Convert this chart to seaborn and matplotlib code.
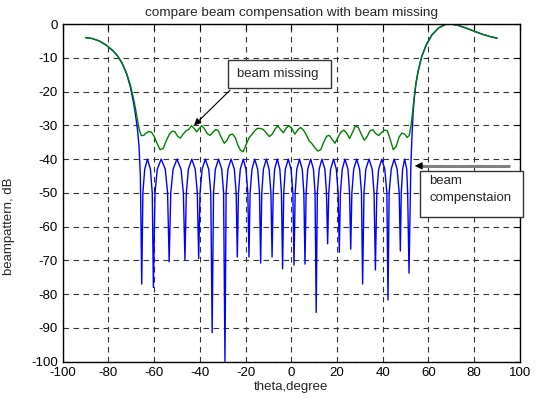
import numpy as np
import pandas as pd
import matplotlib
matplotlib.use("Agg")
import matplotlib.pyplot as plt
import seaborn as sns
from matplotlib.patches import Rectangle

# beam compensation (blue) - theta, dB
blue_theta = [-90, -87, -84, -81, -78, -76, -74, -72, -70.5, -69.2, -68.2, -67.3, -66.6, -66.0,
              -65.4, -64.9, -64.1, -62.9, -61.6, -60.8,
              -60.3, -59.6, -58.6, -56.9, -55.1, -54.1,
              -53.4, -52.7, -51.7, -50.0, -48.2, -47.2,
              -46.5, -45.9, -45.0, -43.5, -42.0, -41.1,
              -40.5, -39.9, -39.0, -37.6, -36.1, -35.2,
              -34.6, -34.0, -33.2, -31.8, -30.4, -29.6,
              -29.0, -28.5, -27.7, -26.3, -24.9, -24.1,
              -23.6, -23.1, -22.3, -21.0, -19.8, -19.0,
              -18.5, -18.0, -17.2, -16.0, -14.7, -13.9,
              -13.4, -12.9, -12.2, -10.9, -9.7, -8.9,
              -8.4, -7.9, -7.3, -6.1, -5.0, -4.3,
              -3.8, -3.3, -2.6, -1.3, -0.1, 0.7,
              1.2, 1.7, 2.4, 3.6, 4.8, 5.5,
              6.0, 6.5, 7.2, 8.5, 9.7, 10.4,
              10.9, 11.4, 12.2, 13.4, 14.7, 15.4,
              15.9, 16.4, 17.2, 18.5, 19.7, 20.5,
              21.0, 21.5, 22.3, 23.5, 24.8, 25.5,
              26.0, 26.5, 27.3, 28.6, 29.9, 30.7,
              31.2, 31.8, 32.6, 34.0, 35.4, 36.2,
              36.8, 37.4, 38.2, 39.6, 40.9, 41.8,
              42.3, 42.8, 43.7, 45.0, 46.3, 47.2,
              47.7, 48.1, 48.7, 49.6, 50.5, 50.9,
              51.5, 52.3, 52.8, 53.3, 53.8, 54.5, 55.5, 57.0, 59.0, 61.5, 64.5, 67.5,
              70.0, 73.0, 76.5, 80.0, 83.5, 87.0, 90.0]
blue_db = [-4.0, -4.3, -5.0, -6.2, -7.9, -9.4, -11.6, -14.8, -18.3, -22.5, -26.5, -31.0, -36.0, -45,
           -77.0, -50, -43, -40, -43, -50,
           -78.0, -50, -43, -40, -43, -50,
           -70.4, -50, -43, -40, -43, -50,
           -69.9, -50, -43, -40, -43, -50,
           -69.4, -50, -43, -40, -43, -50,
           -91.4, -50, -43, -40, -43, -50,
           -100.0, -50, -43, -40, -43, -50,
           -69.0, -50, -43, -40, -43, -50,
           -69.0, -50, -43, -40, -43, -50,
           -70.8, -50, -43, -40, -43, -50,
           -69.0, -50, -43, -40, -43, -50,
           -72.5, -50, -43, -40, -43, -50,
           -71.4, -50, -43, -40, -43, -50,
           -71.1, -50, -43, -40, -43, -50,
           -85.4, -50, -43, -40, -43, -50,
           -65.1, -50, -43, -40, -43, -50,
           -67.6, -50, -43, -40, -43, -50,
           -66.7, -50, -43, -40, -43, -50,
           -77.0, -50, -43, -40, -43, -50,
           -72.8, -50, -43, -40, -43, -50,
           -81.7, -50, -43, -40, -43, -50,
           -67.2, -50, -43, -40, -43, -50,
           -73.8, -42, -33, -26, -22, -17.8, -14.0, -9.8, -6.2, -3.2, -1.1, -0.1,
           0.0, -0.4, -1.2, -2.1, -3.0, -3.7, -4.2]

# beam missing (green)
green_theta = [-90, -87, -84, -81, -78, -76, -74, -72, -70.4, -69.0, -68.0, -67.1, -66.4, -65.6,
               -64.6, -63.5, -62.3, -61.2, -60.0, -58.8, -57.4, -56.0, -54.7, -53.3, -52.0,
               -50.9, -49.7, -48.5, -47.3, -46.0, -44.8, -43.6, -42.4, -41.4, -40.3, -39.2,
               -38.0, -36.8, -35.5, -34.2, -33.0, -31.9, -30.6, -29.3, -28.2, -27.0, -25.7,
               -24.5, -23.4, -22.2, -21.0, -19.7, -18.4, -17.2, -16.0, -14.8, -13.6, -12.3,
               -11.0, -9.6, -8.3, -7.0, -5.8, -4.6, -3.4, -2.2, -1.0, 0.3, 1.6, 2.8, 4.0,
               5.3, 6.6, 7.8, 9.0, 10.3, 11.6, 12.9, 14.2, 15.5, 16.7, 17.9, 19.1, 20.4,
               21.7, 23.0, 24.3, 25.5, 26.7, 28.0, 29.3, 30.6, 31.9, 33.1, 34.4, 35.7,
               36.9, 38.2, 39.5, 40.8, 42.0, 43.3, 44.6, 45.9, 47.2, 48.4, 49.6, 50.7,
               51.6, 52.4, 53.0, 53.7, 54.5, 55.5, 57.0, 59.0, 61.5, 64.5, 67.5, 70.0,
               73.0, 76.5, 80.0, 83.5, 87.0, 90.0]
green_db = [-4.0, -4.3, -5.0, -6.2, -7.9, -9.4, -11.5, -14.6, -18.0, -22.0, -25.5, -29.0, -31.5, -33.0,
            -33.0, -32.3, -31.8, -32.0, -33.2, -35.2, -37.2, -36.8, -34.6, -32.6, -31.7,
            -31.9, -33.2, -33.8, -32.6, -31.6, -31.2, -30.1, -31.0, -31.9, -31.0, -30.1,
            -31.0, -32.4, -33.0, -32.0, -31.2, -31.6, -33.6, -35.3, -34.5, -32.9, -32.6,
            -33.6, -35.8, -37.4, -37.8, -35.6, -33.6, -32.7, -31.6, -30.9, -30.9, -31.2,
            -32.2, -33.3, -32.6, -31.0, -30.2, -31.3, -32.2, -30.8, -30.1, -31.0, -32.6,
            -31.4, -30.6, -31.4, -32.8, -34.6, -35.4, -36.6, -37.6, -37.2, -35.0, -33.2,
            -33.0, -34.2, -35.3, -33.6, -32.0, -31.4, -32.4, -33.9, -32.2, -30.2, -30.6,
            -32.6, -34.4, -33.4, -31.6, -31.3, -32.4, -33.0, -32.1, -31.4, -31.6, -34.2,
            -37.2, -36.2, -33.4, -32.3, -32.6, -33.6, -33.0, -30.0, -26.5, -22.0,
            -17.5, -13.8, -9.6, -6.2, -3.2, -1.1, -0.1, 0.0, -0.4, -1.2, -2.1, -3.0,
            -3.7, -4.2]

x_ticks = list(range(-100, 101, 20))
y_ticks = list(range(-100, 1, 10))

sns.set_style("white")
plt.rcParams["font.family"] = ["Liberation Sans", "DejaVu Sans"]
plt.rcParams["axes.unicode_minus"] = False

fig = plt.figure(figsize=(5.38, 4.01), dpi=100)
ax = fig.add_axes([0.1164, 0.098, 0.85, 0.842])

sns.lineplot(x=blue_theta, y=blue_db, ax=ax, color="#0000ff", lw=1.0,
             estimator=None, sort=False)
sns.lineplot(x=green_theta, y=green_db, ax=ax, color="#008000", lw=1.0,
             estimator=None, sort=False)

ax.set_xlim(-100, 100)
ax.set_ylim(-100, 0)
ax.set_xticks(x_ticks)
ax.set_yticks(y_ticks)
ax.grid(True, color="0.2", linestyle=(0, (5, 4)), lw=0.8)
ax.tick_params(direction="in", length=4, labelsize=9.5, top=True, right=True,
               colors="black")
for s in ax.spines.values():
    s.set_color("black")
    s.set_linewidth(1.0)

ax.set_title("compare beam compensation with beam missing", fontsize=9.7, pad=6)
ax.set_xlabel("theta,degree", fontsize=9.5, labelpad=2)
ax.set_ylabel("beampattern, dB", fontsize=9.5, labelpad=4)
ax.yaxis.set_label_coords(-0.105, 0.40)

# annotation boxes
ax.add_patch(Rectangle((-27.7, -19.0), 45.1, 8.3, fill=True, facecolor="white",
                       edgecolor="0.2", lw=1.0, clip_on=False, zorder=5))
ax.text(-23.7, -14.8, "beam missing", fontsize=9.5, va="center", zorder=6)
ax.annotate("", xy=(-43.4, -30.6), xytext=(-25.9, -19.0),
            arrowprops=dict(arrowstyle="-|>", color="black", lw=0.8,
                            mutation_scale=10), zorder=6)

ax.add_patch(Rectangle((56.3, -57.1), 45.0, 13.7, fill=True, facecolor="white",
                       edgecolor="0.2", lw=1.0, clip_on=False, zorder=5))
ax.text(60.3, -46.6, "beam", fontsize=9.5, va="center", zorder=6)
ax.text(60.3, -51.6, "compenstaion", fontsize=9.5, va="center", zorder=6)
ax.plot([56.0, 95.6], [-42.0, -42.0], color="0.5", lw=2.2, clip_on=False, zorder=6,
        solid_capstyle="butt")
ax.annotate("", xy=(52.8, -42.0), xytext=(57.5, -42.0),
            arrowprops=dict(arrowstyle="-|>", color="black", lw=0.8,
                            mutation_scale=11), zorder=7, annotation_clip=False)

fig.savefig("out.png", dpi=100)
